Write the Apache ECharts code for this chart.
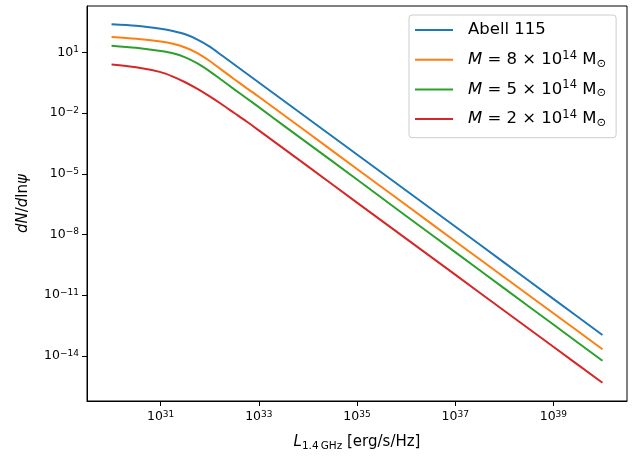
<!DOCTYPE html>
<html>
<head>
<meta charset="utf-8">
<script src="https://cdn.jsdelivr.net/npm/echarts@6/dist/echarts.min.js"></script>
<style>
  html, body { margin: 0; padding: 0; background: #fff; }
  #chart { width: 641px; height: 457px; }
</style>
</head>
<body>
<div id="chart"></div>
<script>
// log10 of the 1.4 GHz luminosity (erg/s/Hz)
const logL = [30, 30.5, 31, 31.25, 31.5, 31.75, 32, 32.25, 32.5, 32.75, 33, 33.5, 34, 35, 36, 37, 38, 39, 40];

// log10 of dN/dln(psi) for each cluster model
const abell115 = [2.40, 2.32, 2.17, 2.06, 1.90, 1.64, 1.29, 0.85, 0.41, -0.04, -0.48, -1.37, -2.26, -4.04, -5.82, -7.60, -9.39, -11.18, -12.97];
const mass8e14 = [1.77, 1.68, 1.54, 1.43, 1.25, 0.97, 0.58, 0.13, -0.32, -0.76, -1.19, -2.08, -2.97, -4.76, -6.54, -8.33, -10.11, -11.89, -13.67];
const mass5e14 = [1.34, 1.23, 1.07, 0.96, 0.76, 0.46, 0.07, -0.37, -0.82, -1.26, -1.70, -2.60, -3.49, -5.28, -7.08, -8.87, -10.66, -12.45, -14.24];
const mass2e14 = [0.41, 0.27, 0.03, -0.19, -0.47, -0.80, -1.17, -1.57, -1.99, -2.41, -2.85, -3.74, -4.63, -6.42, -8.20, -9.98, -11.77, -13.55, -15.33];

// decade tick exponents
const xTickExponents = [31, 33, 35, 37, 39];
const yTickExponents = [1, -2, -5, -8, -11, -14];

const seriesNames = ['Abell 115', 'M8', 'M5', 'M2'];
const legendLabels = {
  'Abell 115': 'Abell 115',
  'M8': '{m|M} = 8 × 10{sup|14} M{sub|⊙}',
  'M5': '{m|M} = 5 × 10{sup|14} M{sub|⊙}',
  'M2': '{m|M} = 2 × 10{sup|14} M{sub|⊙}'
};
const colors = ['#1f77b4', '#ff7f0e', '#2ca02c', '#d62728'];
const FONT = 'DejaVu Sans';

function pairs(ys) { return logL.map((x, i) => [x, ys[i]]); }
function powLabel(v) {
  const e = String(v).replace('-', '\u2212');
  return '{b|10}{s|' + e + '}';
}

const tickRich = {
  b: { fontFamily: FONT, fontSize: 12.5, lineHeight: 14, color: '#000' },
  s: { fontFamily: FONT, fontSize: 9, lineHeight: 8, verticalAlign: 'top', color: '#000' }
};

const chart = echarts.init(document.getElementById('chart'), null, { renderer: 'canvas' });
chart.setOption({
  animation: false,
  color: colors,
  grid: {
    left: 87, right: 14, top: 6, bottom: 52,
    show: true, borderColor: '#000', borderWidth: 1, backgroundColor: 'transparent'
  },
  xAxis: {
    type: 'value', min: 29.5, max: 40.5,
    splitLine: { show: false },
    axisLine: { show: true, onZero: false, lineStyle: { color: '#000', width: 1 } },
    axisTick: { show: true, inside: false, length: 5, lineStyle: { color: '#000', width: 1 }, customValues: xTickExponents },
    axisLabel: { margin: 9, formatter: powLabel, rich: tickRich, customValues: xTickExponents },
    name: '{i|L}{sub|1.4\u2009GHz} [erg/s/Hz]',
    nameLocation: 'middle', nameGap: 31,
    nameTextStyle: {
      fontFamily: FONT, fontSize: 15, color: '#000', lineHeight: 20,
      rich: {
        i: { fontFamily: FONT, fontSize: 15, fontStyle: 'italic', lineHeight: 20, color: '#000' },
        sub: { fontFamily: FONT, fontSize: 10.5, lineHeight: 11, verticalAlign: 'bottom', color: '#000' }
      }
    }
  },
  yAxis: {
    type: 'value', min: -16.23, max: 3.30,
    splitLine: { show: false },
    axisLine: { show: true, onZero: false, lineStyle: { color: '#000', width: 1 } },
    axisTick: { show: true, inside: false, length: 5, lineStyle: { color: '#000', width: 1 }, customValues: yTickExponents },
    axisLabel: { margin: 8, formatter: powLabel, rich: tickRich, customValues: yTickExponents },
    name: '{i|dN}/{i|d}ln{i|ψ}',
    nameLocation: 'middle', nameGap: 54,
    nameTextStyle: {
      fontFamily: FONT, fontSize: 15, color: '#000', lineHeight: 20,
      rich: {
        i: { fontFamily: FONT, fontSize: 15, fontStyle: 'italic', lineHeight: 20, color: '#000' }
      }
    }
  },
  legend: {
    orient: 'vertical', left: 409, top: 15,
    data: seriesNames,
    icon: 'rect', itemWidth: 38, itemHeight: 2, itemGap: 9.7,
    padding: [5, 10, 8.6, 6],
    backgroundColor: 'rgba(255,255,255,0.8)',
    borderColor: '#cccccc', borderWidth: 1, borderRadius: 3,
    selectedMode: false,
    formatter: name => legendLabels[name],
    textStyle: {
      fontFamily: FONT, fontSize: 16.5, color: '#000', lineHeight: 20, padding: [0, 0, 0, 10],
      rich: {
        m: { fontFamily: FONT, fontSize: 16.5, fontStyle: 'italic', lineHeight: 20, color: '#000' },
        sup: { fontFamily: FONT, fontSize: 11.5, lineHeight: 12, verticalAlign: 'top', color: '#000' },
        sub: { fontFamily: FONT, fontSize: 11.5, lineHeight: 12, verticalAlign: 'bottom', color: '#000' }
      }
    }
  },
  series: [abell115, mass8e14, mass5e14, mass2e14].map((ys, i) => ({
    name: seriesNames[i],
    type: 'line',
    data: pairs(ys),
    showSymbol: false,
    smooth: 0.3,
    lineStyle: { width: 2, color: colors[i] },
    itemStyle: { color: colors[i] }
  }))
});
</script>
</body>
</html>
